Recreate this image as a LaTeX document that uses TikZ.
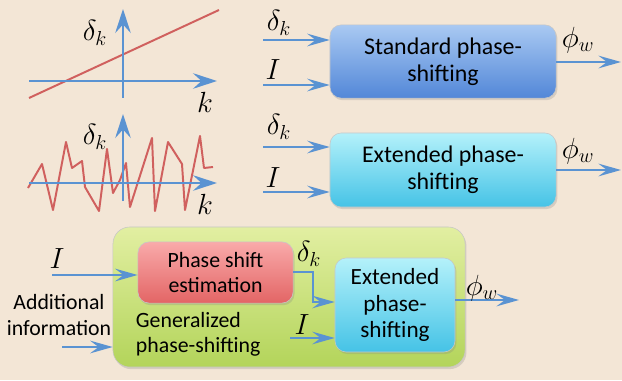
\documentclass[tikz,border=0pt]{standalone}
\usepackage{fontspec}
\setmainfont{Carlito}
\usetikzlibrary{positioning, arrows.meta, shadows}
\definecolor{bgbeige}{HTML}{F3E6D6}
\definecolor{flowblue}{HTML}{5A93D2}
\definecolor{curvered}{HTML}{D0605E}
\definecolor{stdtop}{HTML}{A9C9F2}
\definecolor{stdbot}{HTML}{5287D8}
\definecolor{exttop}{HTML}{B4F1FA}
\definecolor{extbot}{HTML}{45C3E6}
\definecolor{esttop}{HTML}{F9AAAA}
\definecolor{estbot}{HTML}{E36565}
\definecolor{gentop}{HTML}{E2EFA2}
\definecolor{genbot}{HTML}{B3D45A}
\tikzset{
  arrow/.style={line width=1.5pt, draw=flowblue, -{Stealth[length=16pt, width=9pt, inset=6pt]}},
  axis/.style={line width=2pt, draw=flowblue, -{Stealth[length=17pt, width=11pt, inset=6pt]}},
  curve/.style={line width=1.4pt, draw=curvered, line join=round},
  block/.style={rectangle, rounded corners=8pt, draw=black!22, align=center, font=\fontsize{17}{19}\selectfont, drop shadow={shadow xshift=1pt, shadow yshift=-1.5pt, opacity=0.25}},
  stdblock/.style={block, top color=stdtop, bottom color=stdbot, minimum width=5.65cm, minimum height=1.83cm},
  extblock/.style={block, top color=exttop, bottom color=extbot},
  estblock/.style={block, top color=esttop, bottom color=estbot, minimum width=3.88cm, minimum height=1.53cm, font=\fontsize{15.5}{18}\selectfont},
  genblock/.style={block, rounded corners=12pt, top color=gentop, bottom color=genbot, minimum width=8.8cm, minimum height=3.5cm},
  lbl/.style={font=\fontsize{22}{22}\selectfont},
  txt/.style={font=\fontsize{15.5}{18}\selectfont}
}
\begin{document}
\begin{tikzpicture}[x=0.025cm, y=-0.025cm]
    \fill[bgbeige] (0,0) rectangle (622,380);
    \useasboundingbox (0,0) rectangle (622,380);

    % Linear phase shift plot
    \draw[curve] (29,98) -- (219,10);
    \draw[axis] (29,81) -- (217,81);
    \draw[axis] (123,98) -- (123,9);
    \node (dplot1) [lbl] at (95,33) {$\delta_k$};
    \node (kplot1) [lbl] at (205,102) {$k$};

    % Random phase shift plot
    \draw[curve] plot coordinates {(28,188) (42,164) (53,210) (66,142) (72,168) (82,161)
      (85,187) (99,211) (107,149) (113,193) (120,180) (126,163) (130,207) (152,138)
      (155,211) (168,142) (182,164) (185,210) (200,136) (204,168) (213,167)};
    \draw[axis] (29,183) -- (217,183);
    \draw[axis] (123,201) -- (123,114);
    \node (dplot2) [lbl] at (95,137) {$\delta_k$};
    \node (kplot2) [lbl] at (205,204) {$k$};

    % Standard phase-shifting
    \node (stdbox) [stdblock] at (443,61.5) {Standard phase-\\shifting};
    \coordinate (dk1) at (263,40);
    \coordinate (in1) at (263,85);
    \coordinate (phi1) at (621,62);
    \draw[arrow] (dk1) -- (stdbox.west |- dk1);
    \draw[arrow] (in1) -- (stdbox.west |- in1);
    \draw[arrow] (stdbox.east |- phi1) -- (phi1);
    \node (dklbl1) [lbl] at (279,23) {$\delta_k$};
    \node (ilbl1) [lbl] at (273,70) {$I$};
    \node (philbl1) [lbl] at (578,40) {$\phi_w$};

    % Extended phase-shifting
    \node (extbox) [extblock, minimum width=5.65cm, minimum height=1.85cm] at (443,170) {Extended phase-\\shifting};
    \coordinate (dk2) at (263,147);
    \coordinate (in2) at (263,192);
    \coordinate (phi2) at (621,170);
    \draw[arrow] (dk2) -- (extbox.west |- dk2);
    \draw[arrow] (in2) -- (extbox.west |- in2);
    \draw[arrow] (extbox.east |- phi2) -- (phi2);
    \node (dklbl2) [lbl] at (279,127) {$\delta_k$};
    \node (ilbl2) [lbl] at (273,178) {$I$};
    \node (philbl2) [lbl] at (578,151) {$\phi_w$};

    % Generalized phase-shifting
    \node (genbox) [genblock] at (289,297) {};
    \node (estbox) [estblock] at (215.5,272.5) {Phase shift\\estimation};
    \node (extsub) [extblock, minimum width=3cm, minimum height=2.35cm, font=\fontsize{16.5}{19}\selectfont] at (395,305) {Extended\\phase-\\shifting};
    \node (gentxt) [txt, align=left, anchor=west] at (131,334) {Generalized\\phase-shifting};
    \node (addtxt) [txt, align=center] at (59,315) {Additional\\information};

    % Flechas
    \coordinate (inest) at (52,275);
    \coordinate (inadd) at (62,347);
    \coordinate (insub) at (290,338);
    \coordinate (bend) at (313,272);
    \coordinate (phi3) at (519,300);
    \draw[arrow] (inest) -- (estbox.west |- inest);
    \draw[arrow] (inadd) -- (genbox.west |- inadd);
    \draw[arrow] (estbox.east |- bend) -- (bend) -- ++(0,30) -- (extsub.west |- 0,302);
    \draw[arrow] (insub) -- (extsub.west |- insub);
    \draw[arrow] (extsub.east |- phi3) -- (phi3);
    \node (ilbl3) [lbl] at (57,259) {$I$};
    \node (dklbl3) [lbl] at (309,254) {$\delta_k$};
    \node (ilbl4) [lbl] at (302,325) {$I$};
    \node (philbl3) [lbl] at (482,288) {$\phi_w$};
\end{tikzpicture}
\end{document}
